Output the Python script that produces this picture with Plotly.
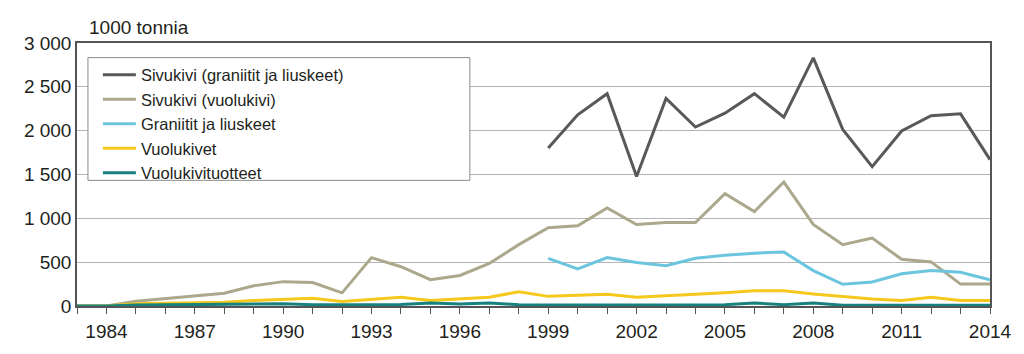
import plotly.graph_objects as go

years = list(range(1983, 2015))
years_b = list(range(1999, 2015))

sivukivi_graniitit = [1803, 2181, 2422, 1478, 2367, 2041, 2200, 2422, 2155, 2830,
                      2014, 1589, 1996, 2170, 2192, 1670]
sivukivi_vuolukivi = [0, 0, 55, 85, 120, 145, 230, 278, 268, 150,
                      552, 448, 300, 348, 485, 700, 892, 914, 1119, 930,
                      952, 952, 1281, 1078, 1414, 930, 700, 774, 533, 503,
                      250, 250]
graniitit_liuskeet = [544, 422, 552, 496, 459, 544, 578, 603, 615, 404,
                      248, 274, 367, 404, 385, 300]
vuolukivet = [0, 0, 25, 30, 35, 44, 63, 78, 89, 52,
              78, 100, 63, 78, 100, 163, 110, 122, 133, 100,
              115, 137, 152, 174, 174, 137, 107, 81, 63, 100,
              63, 63]
vuolukivituotteet = [0, 0, 10, 12, 14, 16, 18, 25, 15, 12,
                     15, 18, 35, 22, 35, 15, 12, 12, 12, 12,
                     12, 12, 15, 35, 15, 35, 8, 8, 8, 8,
                     8, 8]

names = ["Sivukivi (graniitit ja liuskeet)", "Sivukivi (vuolukivi)",
         "Graniitit ja liuskeet", "Vuolukivet", "Vuolukivituotteet"]
colors = ["#58595b", "#aba88c", "#6cc5df", "#f5c81c", "#16817f"]

y_ticks = [0, 500, 1000, 1500, 2000, 2500, 3000]
y_tick_text = ["0", "500", "1 000", "1 500", "2 000", "2 500", "3 000"]
x_ticks = list(range(1984, 2015, 3))

series = [(years_b, sivukivi_graniitit), (years, sivukivi_vuolukivi),
          (years_b, graniitit_liuskeet), (years, vuolukivet),
          (years, vuolukivituotteet)]

fig = go.Figure()
for (xs, ys), name, col in zip(series, names, colors):
    fig.add_trace(go.Scatter(x=xs, y=ys, mode="lines", name=name,
                             line=dict(color=col, width=3), cliponaxis=False))

W, H = 1024, 354
L, R, T, B = 77, 29, 43, 41
pw, ph = W - L - R, H - T - B

def px_x(p):
    return (p - L) / pw

def px_y(p):
    return (H - B - p) / ph

font_family = "Liberation Sans, Arial, sans-serif"
text_col = "#231f20"

fig.update_layout(
    width=W, height=H,
    margin=dict(l=L, r=R, t=T, b=B),
    paper_bgcolor="white", plot_bgcolor="white",
    font=dict(family=font_family, color=text_col, size=19),
    showlegend=True,
    legend=dict(
        x=px_x(98), y=px_y(58), xanchor="left", yanchor="top",
        bgcolor="rgba(0,0,0,0)", borderwidth=0,
        font=dict(size=16.5, family=font_family, color=text_col),
        itemwidth=33, tracegroupgap=0,
    ),
    shapes=[dict(type="rect", xref="paper", yref="paper",
                 x0=px_x(88), x1=px_x(472), y0=px_y(184), y1=px_y(58),
                 line=dict(color="#8c8c8c", width=1), fillcolor="white",
                 layer="above")],
    annotations=[dict(text="1000 tonnia", xref="paper", yref="paper",
                      x=px_x(87), y=1, xanchor="left", yanchor="bottom",
                      yshift=3, showarrow=False,
                      font=dict(size=19, family=font_family, color=text_col))],
)

fig.update_xaxes(
    range=[1983, 2014], tickvals=x_ticks, ticks="outside", ticklen=6,
    tickcolor="#555555", showgrid=False, zeroline=False,
    showline=True, linecolor="#555555", linewidth=1.5, mirror=True,
    minor=dict(dtick=1, tick0=1983, ticks="outside", ticklen=6, tickcolor="#555555"),
    tickfont=dict(size=19), ticklabelstandoff=1,
)
fig.update_yaxes(
    range=[0, 3000], tickvals=y_ticks, ticktext=y_tick_text, ticks="",
    showgrid=True, gridcolor="#b5b5b5", gridwidth=1, zeroline=False,
    showline=True, linecolor="#555555", linewidth=1.5, mirror=True,
    tickfont=dict(size=19), ticklabelstandoff=0,
)

fig.write_html("out.html")
